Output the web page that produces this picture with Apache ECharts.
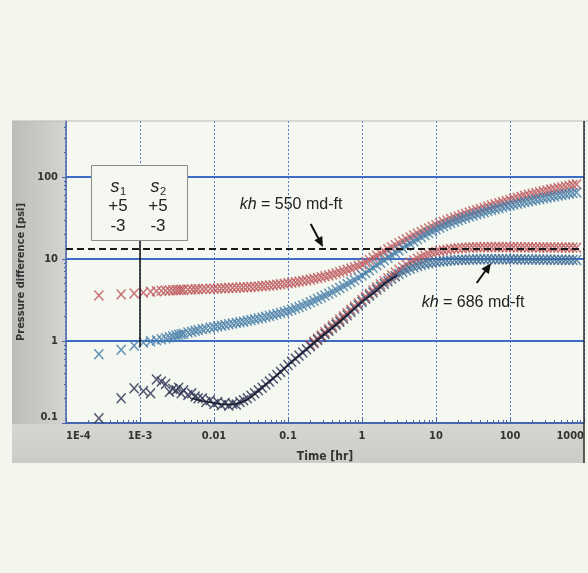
<!DOCTYPE html>
<html>
<head>
<meta charset="utf-8">
<script src="https://cdn.jsdelivr.net/npm/echarts@6/dist/echarts.min.js"></script>
<style>
  html, body { margin: 0; padding: 0; background: #f2f6ec; }
  #chart { width: 588px; height: 573px; }
</style>
</head>
<body>
<div id="chart"></div>
<script>
// Elapsed time in hours (first points are 1 s apart, then log spaced)
const timeHr = [
  0.000278, 0.000556, 0.000833, 0.00111, 0.00139, 0.00167, 0.00194, 0.00222, 0.0025, 0.00278,
  0.00306, 0.00333, 0.00361, 0.00389, 0.00444, 0.005, 0.00556, 0.00611, 0.00694, 0.00778, 0.00889, 0.01,
  0.0112, 0.0126, 0.0141, 0.0158, 0.0178, 0.02, 0.0224, 0.0251, 0.0282, 0.0316,
  0.0355, 0.0398, 0.0447, 0.0501, 0.0562, 0.0631, 0.0708, 0.0794, 0.0891, 0.1,
  0.112, 0.126, 0.141, 0.158, 0.178, 0.2, 0.224, 0.251, 0.282, 0.316,
  0.355, 0.398, 0.447, 0.501, 0.562, 0.631, 0.708, 0.794, 0.891, 1,
  1.12, 1.26, 1.41, 1.58, 1.78, 2, 2.24, 2.51, 2.82, 3.16,
  3.55, 3.98, 4.47, 5.01, 5.62, 6.31, 7.08, 7.94, 8.91, 10,
  11.2, 12.6, 14.1, 15.8, 17.8, 20, 22.4, 25.1, 28.2, 31.6,
  35.5, 39.8, 44.7, 50.1, 56.2, 63.1, 70.8, 79.4, 89.1, 100,
  112, 126, 141, 158, 178, 200, 224, 251, 282, 316,
  355, 398, 447, 501, 562, 631, 708, 794
];

// Pressure difference, kh = 550 md-ft (psi)
const pressure550 = [
  3.6, 3.7, 3.8, 3.9, 4.0, 4.05, 4.1, 4.12, 4.14, 4.16,
  4.18, 4.2, 4.21, 4.22, 4.24, 4.26, 4.27, 4.29, 4.3, 4.32, 4.34, 4.35,
  4.37, 4.39, 4.41, 4.43, 4.45, 4.47, 4.49, 4.51, 4.54, 4.57,
  4.6, 4.63, 4.67, 4.71, 4.75, 4.8, 4.86, 4.92, 4.98, 5.05,
  5.13, 5.21, 5.3, 5.4, 5.5, 5.61, 5.73, 5.86, 6.0, 6.15,
  6.31, 6.49, 6.68, 6.89, 7.12, 7.37, 7.64, 7.93, 8.25, 8.6,
  9.15, 9.72, 10.33, 10.97, 11.65, 12.37, 13.12, 13.9, 14.72, 15.57,
  16.45, 17.37, 18.32, 19.3, 20.32, 21.37, 22.45, 23.56, 24.7, 25.87,
  27.1, 28.3, 29.5, 30.7, 31.9, 33.1, 34.3, 35.5, 36.8, 38.1,
  39.4, 40.8, 42.2, 43.6, 45.0, 46.5, 48.0, 49.5, 51.0, 52.6,
  54.2, 55.8, 57.4, 59.0, 60.6, 62.2, 63.8, 65.4, 67.0, 68.6,
  70.2, 71.8, 73.4, 75.0, 76.6, 78.2, 79.8, 81.4
];

// Pressure difference, kh = 686 md-ft (psi)
const pressure686 = [
  0.69, 0.78, 0.88, 0.96, 0.99, 1.02, 1.05, 1.08, 1.11, 1.14,
  1.17, 1.19, 1.21, 1.23, 1.27, 1.3, 1.33, 1.36, 1.39, 1.42, 1.45, 1.48,
  1.51, 1.54, 1.57, 1.6, 1.63, 1.66, 1.69, 1.72, 1.76, 1.8,
  1.84, 1.88, 1.92, 1.97, 2.02, 2.07, 2.13, 2.19, 2.26, 2.33,
  2.41, 2.5, 2.6, 2.71, 2.83, 2.96, 3.1, 3.25, 3.41, 3.58,
  3.77, 3.97, 4.19, 4.42, 4.67, 4.94, 5.23, 5.54, 5.9, 6.3,
  6.77, 7.28, 7.82, 8.4, 9.02, 9.68, 10.38, 11.12, 11.9, 12.72,
  13.58, 14.48, 15.42, 16.4, 17.42, 18.48, 19.58, 20.7, 21.85, 23.0,
  24.1, 25.2, 26.3, 27.4, 28.5, 29.6, 30.7, 31.8, 32.9, 34.0,
  35.1, 36.2, 37.3, 38.4, 39.5, 40.6, 41.7, 42.8, 43.9, 45.0,
  46.1, 47.2, 48.3, 49.4, 50.5, 51.6, 52.7, 53.8, 54.9, 56.0,
  57.1, 58.2, 59.3, 60.4, 61.5, 62.6, 63.7, 64.8
];

// Pressure derivative, kh = 686 md-ft (psi)
const deriv686 = [
  0.114, 0.2, 0.265, 0.245, 0.23, 0.34, 0.32, 0.3, 0.24, 0.26,
  0.25, 0.27, 0.23, 0.25, 0.22, 0.23, 0.21, 0.2, 0.2, 0.18, 0.19, 0.17,
  0.18, 0.165, 0.175, 0.163, 0.172, 0.168, 0.18, 0.19, 0.2, 0.215,
  0.23, 0.25, 0.27, 0.295, 0.32, 0.35, 0.385, 0.42, 0.46, 0.51,
  0.557, 0.608, 0.664, 0.725, 0.792, 0.864, 0.943, 1.03, 1.12, 1.22,
  1.33, 1.45, 1.58, 1.72, 1.88, 2.06, 2.26, 2.49, 2.73, 3.0,
  3.28, 3.58, 3.9, 4.24, 4.6, 4.98, 5.37, 5.77, 6.17, 6.56,
  6.94, 7.3, 7.63, 7.93, 8.2, 8.45, 8.67, 8.86, 9.03, 9.18,
  9.31, 9.42, 9.52, 9.6, 9.67, 9.73, 9.78, 9.82, 9.85, 9.88,
  9.9, 9.92, 9.93, 9.94, 9.95, 9.95, 9.95, 9.94, 9.93, 9.92,
  9.9, 9.9, 9.88, 9.87, 9.86, 9.85, 9.84, 9.83, 9.82, 9.81,
  9.8, 9.79, 9.78, 9.77, 9.76, 9.75, 9.74, 9.73
];

// Pressure derivative, kh = 550 md-ft (psi); covers the last part of timeHr (from 0.2 hr)
const deriv550 = [
  0.9, 0.98, 1.07, 1.17, 1.28,
  1.4, 1.53, 1.67, 1.83, 2.0, 2.19, 2.4, 2.63, 2.88, 3.16,
  3.46, 3.78, 4.13, 4.51, 4.92, 5.36, 5.83, 6.33, 6.85, 7.39,
  7.94, 8.5, 9.05, 9.59, 10.1, 10.6, 11.05, 11.47, 11.85, 12.2,
  12.5, 12.77, 13.0, 13.2, 13.37, 13.5, 13.62, 13.72, 13.8, 13.86,
  13.9, 13.93, 13.95, 13.96, 13.97, 13.97, 13.97, 13.96, 13.95, 13.94,
  13.93, 13.92, 13.91, 13.9, 13.89, 13.88, 13.87, 13.86, 13.85, 13.84,
  13.83, 13.82, 13.81, 13.8, 13.79, 13.78, 13.77, 13.76
];

// Model derivative curve
const modelTime = [0.005, 0.007, 0.01, 0.015, 0.02, 0.03, 0.05, 0.07, 0.1, 0.15, 0.2, 0.3, 0.5, 0.7, 1, 1.5, 2, 3];
const modelDeriv = [0.2, 0.185, 0.175, 0.168, 0.172, 0.2, 0.295, 0.38, 0.51, 0.7, 0.864, 1.18, 1.72, 2.26, 3.0, 3.95, 4.98, 6.3];

// Radial-flow derivative level for kh = 550 md-ft
const stabilizedLevel550 = 13.4;

// Axis tick labels
const xTickLabels = ['1E-4', '1E-3', '0.01', '0.1', '1', '10', '100', '1000'];
const yTickValues = [0.1, 1, 10, 100];
const yTickLabels = ['0.1', '1', '10', '100'];

// Skin table
const skinRows = [['+5', '+5'], ['-3', '-3']];

const X_MIN = 1e-4, X_MAX = 1000, Y_MIN = 0.1, Y_MAX = 482;

const minorX = [];
for (let e = -4; e < 3; e++) for (let m = 2; m <= 9; m++) minorX.push(m * Math.pow(10, e));
const minorY = [];
for (let e = -1; e < 3; e++) for (let m = 2; m <= 9; m++) {
  const v = m * Math.pow(10, e);
  if (v < Y_MAX) minorY.push(v);
}

const pairs = (ts, vs) => vs.map((v, i) => [ts[i], v]);
const tail = (ts, vs) => ts.slice(ts.length - vs.length);

// thin "x" marker
const crossSymbol = 'path://M0,1L1,0L5,4L9,0L10,1L6,5L10,9L9,10L5,6L1,10L0,9L4,5Z';
const tickFont = "'Liberation Sans Narrow','DejaVu Sans Condensed','Liberation Sans',Arial,sans-serif";
const textFont = "'Liberation Sans',Arial,Helvetica,sans-serif";
const axisBlue = '#4a66a8';

const chart = echarts.init(document.getElementById('chart'), null, { renderer: 'canvas' });

const markerSeries = (name, data, color) => ({
  type: 'scatter',
  name,
  data,
  symbol: crossSymbol,
  symbolSize: [10, 11],
  silent: true,
  itemStyle: { color, opacity: 0.85 },
  emphasis: { disabled: true }
});

const option = {
  animation: false,
  backgroundColor: '#f2f6ec',
  grid: { left: 66, top: 121, right: 4, bottom: 150, show: true, backgroundColor: '#f5f8f0', borderWidth: 0 },
  xAxis: [
    {
      type: 'log', logBase: 10, min: X_MIN, max: X_MAX, position: 'bottom',
      axisLine: { show: true, lineStyle: { color: axisBlue, width: 1.5 } },
      axisTick: { show: true, inside: true, length: 6, lineStyle: { color: axisBlue, width: 1 } },
      axisLabel: {
        formatter: v => xTickLabels[Math.round(Math.log10(v)) + 4],
        color: '#333', fontWeight: 'bold', fontSize: 11, fontFamily: tickFont, margin: 8,
        alignMinLabel: 'left', alignMaxLabel: 'right'
      },
      splitLine: { show: true, lineStyle: { color: '#5b7bd0', width: 1, type: [2, 2] } },
      name: 'Time [hr]', nameLocation: 'middle', nameGap: 28,
      nameTextStyle: { color: '#333', fontWeight: 'bold', fontSize: 12, fontFamily: tickFont }
    },
    {
      type: 'log', logBase: 10, min: X_MIN, max: X_MAX, position: 'bottom',
      axisLine: { show: false },
      axisTick: { show: true, inside: true, length: 3, customValues: minorX, lineStyle: { color: axisBlue, width: 1 } },
      axisLabel: { show: false },
      splitLine: { show: false }
    }
  ],
  yAxis: [
    {
      type: 'log', logBase: 10, min: Y_MIN, max: Y_MAX, position: 'left',
      axisLine: { show: true, lineStyle: { color: axisBlue, width: 1.5 } },
      axisTick: { show: true, inside: false, length: 4, customValues: yTickValues, lineStyle: { color: axisBlue } },
      axisLabel: {
        customValues: yTickValues,
        formatter: v => yTickLabels[Math.round(Math.log10(v)) + 1],
        color: '#333', fontWeight: 'bold', fontSize: 11, fontFamily: tickFont, margin: 8,
        verticalAlignMinLabel: 'bottom'
      },
      splitLine: { show: true, lineStyle: { color: '#3d6cc6', width: 2 } },
      name: 'Pressure difference [psi]', nameLocation: 'middle', nameGap: 38, nameRotate: 90,
      nameTextStyle: { color: '#333', fontWeight: 'bold', fontSize: 11, fontFamily: tickFont }
    },
    {
      type: 'log', logBase: 10, min: Y_MIN, max: Y_MAX, position: 'left',
      axisLine: { show: false },
      axisTick: { show: true, inside: false, length: 2, customValues: minorY, lineStyle: { color: axisBlue } },
      axisLabel: { show: false },
      splitLine: { show: false }
    }
  ],
  visualMap: {
    type: 'piecewise', show: false, seriesIndex: 3, dimension: 0,
    pieces: [
      { lt: 0.6, color: '#353a5a' },
      { gte: 0.6, lt: 3, color: '#3d4e72' },
      { gte: 3, color: '#41709a' }
    ]
  },
  series: [
    markerSeries('Derivative, kh = 550', pairs(tail(timeHr, deriv550), deriv550), '#bf5d61'),
    markerSeries('Pressure, kh = 550', pairs(timeHr, pressure550), '#bf5d61'),
    markerSeries('Pressure, kh = 686', pairs(timeHr, pressure686), '#4a80aa'),
    markerSeries('Derivative, kh = 686', pairs(timeHr, deriv686), '#353a5a'),
    {
      type: 'line', name: 'Model derivative', data: pairs(modelTime, modelDeriv),
      symbol: 'none', smooth: 0.3, silent: true,
      lineStyle: { color: '#1c1f2e', width: 1.5 },
      markLine: {
        silent: true, symbol: ['none', 'none'], label: { show: false },
        lineStyle: { type: [7, 4], color: '#1a1a1a', width: 2 },
        data: [{ yAxis: stabilizedLevel550 }]
      }
    }
  ]
};

chart.setOption(option);

// Annotation layer: panel, skin table, arrows and labels
const toPx = (t, v) => chart.convertToPixel({ xAxisIndex: 0, yAxisIndex: 0 }, [t, v]);

function arrow(from, to, id) {
  const a = toPx(from[0], from[1]);
  const b = toPx(to[0], to[1]);
  const dx = b[0] - a[0], dy = b[1] - a[1];
  const len = Math.hypot(dx, dy);
  const ux = dx / len, uy = dy / len;
  const headLen = 10, headHalf = 4.5;
  const bx = b[0] - ux * headLen, by = b[1] - uy * headLen;
  return [
    { type: 'line', id: id + 'Shaft', z: 120, shape: { x1: a[0], y1: a[1], x2: bx, y2: by }, style: { stroke: '#111', lineWidth: 2 } },
    { type: 'polygon', id: id + 'Head', z: 120, shape: { points: [[b[0], b[1]], [bx - uy * headHalf, by + ux * headHalf], [bx + uy * headHalf, by - ux * headHalf]] }, style: { fill: '#111' } }
  ];
}

const pointerTop = toPx(1e-3, 17);
const pointerBottom = toPx(1e-3, 0.84);

const boxX = 91.5, boxY = 165.5, boxW = 96, boxH = 75;
const colX = [118, 158];
const rowY = [206, 226];

const graphics = [
  { type: 'rect', z: -10, shape: { x: 12, y: 121, width: 54, height: 342 },
    style: { fill: new echarts.graphic.LinearGradient(0, 0, 1, 0, [{ offset: 0, color: '#bcbdb8' }, { offset: 1, color: '#d4d5d0' }]) } },
  { type: 'rect', z: -9, shape: { x: 12, y: 424, width: 572, height: 39 },
    style: { fill: new echarts.graphic.LinearGradient(0, 0, 0, 1, [{ offset: 0, color: '#d6d7d2' }, { offset: 1, color: '#cbccc7' }]) } },
  { type: 'line', z: 50, shape: { x1: 12, y1: 121, x2: 588, y2: 121 }, style: { stroke: '#b8bab4', lineWidth: 1 } },
  { type: 'line', z: 50, shape: { x1: 584, y1: 121, x2: 584, y2: 463 }, style: { stroke: '#2c2c2c', lineWidth: 1.5 } },
  { type: 'line', z: 110, shape: { x1: pointerTop[0], y1: boxY + boxH, x2: pointerBottom[0], y2: pointerBottom[1] }, style: { stroke: '#111', lineWidth: 1.5 } },
  { type: 'rect', z: 110, shape: { x: boxX, y: boxY, width: boxW, height: boxH }, style: { fill: '#f5f8f0', stroke: '#8c8c8c', lineWidth: 1 } }
];

[['s', '1', 0], ['s', '2', 1]].forEach(([sym, sub, c]) => {
  graphics.push({ type: 'text', z: 115, x: colX[c] - 3, y: 187,
    style: { text: sym, font: 'italic 18px ' + textFont, fill: '#222', align: 'center', verticalAlign: 'middle' } });
  graphics.push({ type: 'text', z: 115, x: colX[c] + 5, y: 192,
    style: { text: sub, font: '11px ' + textFont, fill: '#222', align: 'center', verticalAlign: 'middle' } });
});
skinRows.forEach((row, r) => row.forEach((txt, c) => {
  graphics.push({ type: 'text', z: 115, x: colX[c], y: rowY[r],
    style: { text: txt, font: '17px ' + textFont, fill: '#222', align: 'center', verticalAlign: 'middle' } });
}));

const khLabel = (value, x, y) => ({
  type: 'text', z: 115, x, y,
  style: {
    text: '{i|kh}{n| = ' + value + ' md-ft}',
    align: 'center', verticalAlign: 'middle',
    rich: {
      i: { fontStyle: 'italic', fontSize: 16, fontFamily: textFont, fill: '#222', color: '#222' },
      n: { fontSize: 16, fontFamily: textFont, fill: '#222', color: '#222' }
    }
  }
});

graphics.push(khLabel(550, 291, 205));
graphics.push(khLabel(686, 473, 303));
graphics.push(...arrow([0.203, 26.7], [0.297, 14.0], 'arrow550'));
graphics.push(...arrow([35.5, 5.1], [55.3, 8.9], 'arrow686'));

chart.setOption({ graphic: graphics });
</script>
</body>
</html>
